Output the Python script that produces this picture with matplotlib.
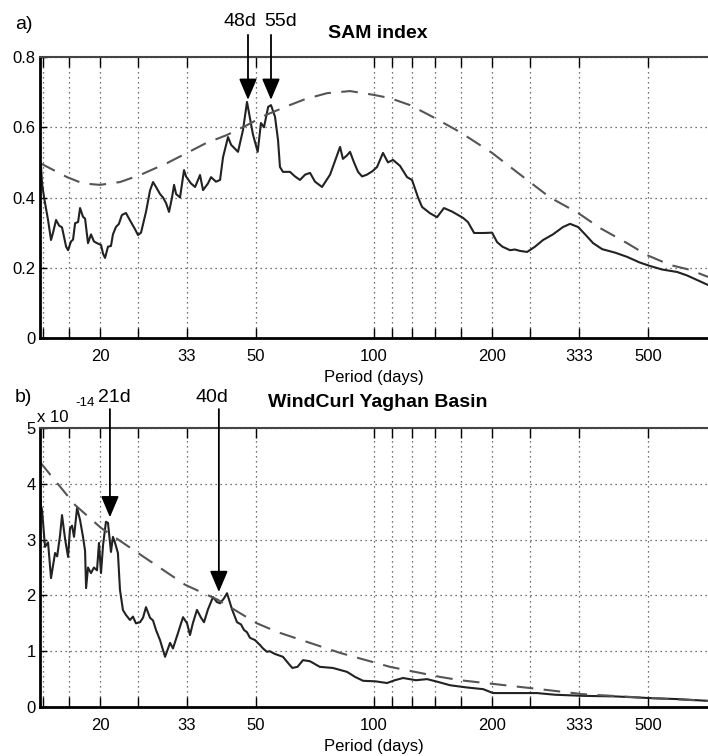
import numpy as np
import matplotlib
matplotlib.use("Agg")
import matplotlib.pyplot as plt

plt.rcParams['font.family'] = ['Liberation Sans', 'DejaVu Sans']

# x axis: period in days (log scale, ticks at 1/f)
tick_periods = [14.29, 16.67, 20, 25, 33.33, 50, 100, 111.1, 125, 142.9, 166.7, 200, 250, 333.3, 500]
tick_labels = ['', '', '20', '', '33', '50', '100', '', '', '', '', '200', '', '333', '500']

# a) SAM index spectrum
sam_period = [14.06, 14.14, 14.23, 14.4, 14.74, 15.0, 15.18, 15.45, 15.73, 16.0, 16.39, 16.58,
              16.87, 17.07, 17.28, 17.58, 17.79, 18.1, 18.32, 18.64, 18.97, 19.3, 19.65, 20.12,
              20.36, 20.6, 20.96, 21.33, 21.58, 21.96, 22.35, 22.74, 23.29, 23.85, 24.56, 25.0,
              25.45, 26.2, 26.83, 27.31, 27.79, 28.45, 28.96, 29.48, 30.0, 30.53, 30.9, 31.27,
              32.0, 32.76, 33.15, 34.13, 34.96, 35.99, 36.63, 37.71, 38.39, 39.53, 40.48, 41.2,
              42.42, 43.2, 44.98, 46.32, 47.42, 49.1, 50.5, 51.47, 52.4, 53.7, 54.6, 55.9, 56.9,
              57.55, 58.57, 61.04, 62.86, 64.73, 66.7, 68.67, 70.72, 73.69, 77.24, 81.91, 83.3,
              85.34, 86.85, 88.9, 91.04, 93.2, 95.9, 99.1, 101.8, 105.4, 108.5, 111.8, 116.5,
              121.4, 125.0, 129.5, 132.6, 139.0, 144.8, 150.8, 158.1, 168.7, 173.6, 180.0, 190.9,
              200, 206.0, 212.6, 222.3, 228.7, 235.6, 245.7, 257.4, 269.9, 286, 303.5, 316.3,
              331.5, 345.5, 362.2, 381.8, 412, 442.1, 476, 505.8, 543, 593, 629, 667, 711]
sam_power = [0.45, 0.49, 0.44, 0.40, 0.336, 0.279, 0.30, 0.336, 0.32, 0.315, 0.26, 0.25,
             0.275, 0.28, 0.327, 0.33, 0.37, 0.345, 0.34, 0.27, 0.295, 0.275, 0.27, 0.265,
             0.24, 0.228, 0.26, 0.262, 0.295, 0.316, 0.325, 0.35, 0.356, 0.335, 0.31, 0.293,
             0.30, 0.359, 0.42, 0.444, 0.43, 0.41, 0.40, 0.384, 0.359, 0.40, 0.436, 0.41,
             0.40, 0.478, 0.46, 0.44, 0.43, 0.464, 0.421, 0.44, 0.458, 0.445, 0.45, 0.515,
             0.572, 0.55, 0.53, 0.592, 0.672, 0.58, 0.53, 0.612, 0.60, 0.658, 0.663, 0.63, 0.564,
             0.487, 0.473, 0.473, 0.46, 0.45, 0.465, 0.47, 0.445, 0.43, 0.465, 0.544, 0.51,
             0.52, 0.53, 0.50, 0.473, 0.46, 0.465, 0.475, 0.487, 0.527, 0.50, 0.507, 0.49,
             0.458, 0.45, 0.40, 0.373, 0.355, 0.344, 0.37, 0.36, 0.342, 0.33, 0.299, 0.299,
             0.30, 0.273, 0.26, 0.25, 0.252, 0.248, 0.245, 0.26, 0.279, 0.295, 0.316, 0.325,
             0.316, 0.295, 0.27, 0.253, 0.243, 0.231, 0.215, 0.205, 0.195, 0.188, 0.178, 0.165, 0.151]
sam_red_period = [14.06, 16.48, 18.1, 20, 22.49, 25.3, 29.65, 33.35, 37.3, 42.17, 47.42, 53.0,
                  60.0, 66.7, 75.9, 86.85, 100, 109.8, 123.6, 141.4, 165.8, 200, 245.7, 281.2,
                  331.5, 377.3, 442.1, 497, 569, 640, 711]
sam_red = [0.498, 0.458, 0.44, 0.436, 0.444, 0.464, 0.498, 0.527, 0.555, 0.578, 0.606, 0.635,
           0.66, 0.68, 0.697, 0.703, 0.692, 0.683, 0.663, 0.629, 0.586, 0.527, 0.45, 0.40,
           0.356, 0.313, 0.27, 0.236, 0.208, 0.194, 0.174]

# b) wind curl spectrum (x 1e-14)
wc_period = [14.06, 14.15, 14.23, 14.48, 14.74, 15.0, 15.36, 15.55, 15.82, 16.0, 16.3, 16.58,
             16.77, 16.97, 17.17, 17.48, 17.79, 18.1, 18.32, 18.43, 18.64, 18.97, 19.3, 19.65,
             19.88, 20.12, 20.36, 20.71, 20.96, 21.33, 21.58, 21.83, 22.22, 22.49, 22.88, 23.29,
             23.85, 24.27, 24.7, 25.3, 25.75, 26.2, 26.83, 27.31, 27.79, 28.45, 28.96, 29.31,
             30.18, 30.7, 31.63, 32.57, 33.35, 33.93, 34.5, 35.35, 36.2, 36.84, 37.71, 38.84,
             39.76, 40.48, 41.45, 42.17, 43.43, 44.72, 45.78, 46.6, 47.42, 48.26, 49.7, 51.2,
             52.1, 53.3, 54.2, 55.9, 58.57, 60.5, 61.9, 63.8, 65.9, 68.67, 72.7, 78.5, 85.34,
             89.45, 93.75, 100.9, 107.9, 113, 118.6, 127.9, 136.5, 145.6, 156.3, 172.7, 189.8,
             201.2, 222.3, 260.5, 289.6, 341.4, 412, 505.8, 603, 711]
wc_power = [3.9, 3.6, 3.53, 2.87, 2.95, 2.31, 2.76, 2.7, 3.08, 3.44, 3.0, 2.69,
            3.2, 3.25, 3.05, 3.57, 3.35, 3.05, 2.8, 2.13, 2.5, 2.4, 2.5, 2.45,
            2.94, 2.4, 2.9, 3.32, 3.3, 2.78, 3.05, 2.95, 2.76, 2.1, 1.74, 1.65,
            1.56, 1.62, 1.5, 1.52, 1.6, 1.79, 1.6, 1.55, 1.38, 1.2, 1.02, 0.9,
            1.15, 1.05, 1.33, 1.61, 1.5, 1.29, 1.5, 1.74, 1.6, 1.52, 1.75, 1.97,
            1.88, 1.86, 1.95, 2.04, 1.75, 1.52, 1.48, 1.38, 1.34, 1.24, 1.2, 1.11,
            1.05, 0.99, 1.0, 0.95, 0.9, 0.78, 0.7, 0.72, 0.84, 0.82, 0.72, 0.7, 0.63,
            0.54, 0.47, 0.46, 0.43, 0.48, 0.52, 0.48, 0.5, 0.45, 0.39, 0.35, 0.32,
            0.25, 0.25, 0.25, 0.22, 0.2, 0.19, 0.16, 0.14, 0.11]
wc_red_period = [14.06, 17.28, 20.12, 25.0, 33.0, 40.0, 50.28, 56.9, 81.91, 109.8, 147.3,
                 165.8, 250, 341.4, 505.8, 711]
wc_red = [4.39, 3.62, 3.21, 2.76, 2.19, 1.92, 1.5, 1.34, 0.97, 0.72, 0.54,
          0.48, 0.34, 0.23, 0.16, 0.11]

# arrows: (label, period, tip value, label period)
sam_peaks = [('48d', 47.7, 0.678, 45.5), ('55d', 54.6, 0.678, 57.9)]
wc_peaks = [('21d', 21.2, 3.40, 21.8), ('40d', 40.2, 2.06, 38.6)]

fig = plt.figure(figsize=(7.08, 7.56), dpi=100)
ax1 = fig.add_axes([0.0565, 0.5529, 0.9435, 0.3717])
ax2 = fig.add_axes([0.0565, 0.0648, 0.9435, 0.3690])


def style_axis(ax, yticks, ylabels, ymax):
    ax.set_xscale('log')
    ax.set_xlim(14.06, 711)
    ax.set_ylim(0, ymax)
    ax.set_xticks(tick_periods)
    ax.set_xticklabels(tick_labels)
    ax.xaxis.set_minor_locator(matplotlib.ticker.NullLocator())
    ax.set_yticks(yticks)
    ax.set_yticklabels(ylabels)
    ax.grid(True, color='#444444', linestyle=(0, (1, 3)), linewidth=0.9)
    ax.tick_params(axis='x', direction='in', length=7, width=1, top=True,
                   labelsize=12, pad=8)
    ax.tick_params(axis='y', direction='in', length=5, width=1,
                   labelsize=12, pad=3)
    ax.spines['right'].set_visible(False)
    ax.spines['left'].set_linewidth(2)
    ax.spines['bottom'].set_linewidth(2)
    ax.spines['top'].set_linewidth(1.5)
    ax.spines['top'].set_color('#444444')
    ax.set_xlabel('Period (days)', fontsize=12, labelpad=4)


style_axis(ax1, [0, 0.2, 0.4, 0.6, 0.8], ['0', '0.2', '0.4', '0.6', '0.8'], 0.8)
style_axis(ax2, [0, 1, 2, 3, 4, 5], ['0', '1', '2', '3', '4', '5'], 5)

ax1.plot(sam_period, sam_power, color='#222222', lw=1.5)
ax1.plot(sam_red_period, sam_red, color='#555555', lw=1.5, dashes=(8, 5))
ax2.plot(wc_period, wc_power, color='#222222', lw=1.5)
ax2.plot(wc_red_period, wc_red, color='#555555', lw=1.5, dashes=(8, 5))

arrow_style = dict(arrowstyle='-|>,head_length=1.3,head_width=0.55',
                   color='black', lw=1.3, shrinkA=0, shrinkB=0)

for lab, p, v, lp in sam_peaks:
    ax1.annotate('', xy=(p, v), xytext=(p, 0.863), annotation_clip=False,
                 arrowprops=arrow_style)
    ax1.text(lp, 0.90, lab, ha='center', va='center', fontsize=14, clip_on=False)

for lab, p, v, lp in wc_peaks:
    ax2.annotate('', xy=(p, v), xytext=(p, 5.34), annotation_clip=False,
                 arrowprops=arrow_style)
    ax2.text(lp, 5.54, lab, ha='center', va='center', fontsize=14, clip_on=False)

fig.text(0.534, 0.956, 'SAM index', ha='center', va='center', fontsize=14, fontweight='bold')
fig.text(0.533, 0.467, 'WindCurl Yaghan Basin', ha='center', va='center', fontsize=14,
         fontweight='bold')
fig.text(0.021, 0.967, 'a)', ha='left', va='center', fontsize=14)
fig.text(0.021, 0.474, 'b)', ha='left', va='center', fontsize=14)
fig.text(0.052, 0.448, 'x 10', ha='left', va='center', fontsize=12)
fig.text(0.107, 0.467, '-14', ha='left', va='center', fontsize=9.5)

fig.savefig('out.png', dpi=100)
